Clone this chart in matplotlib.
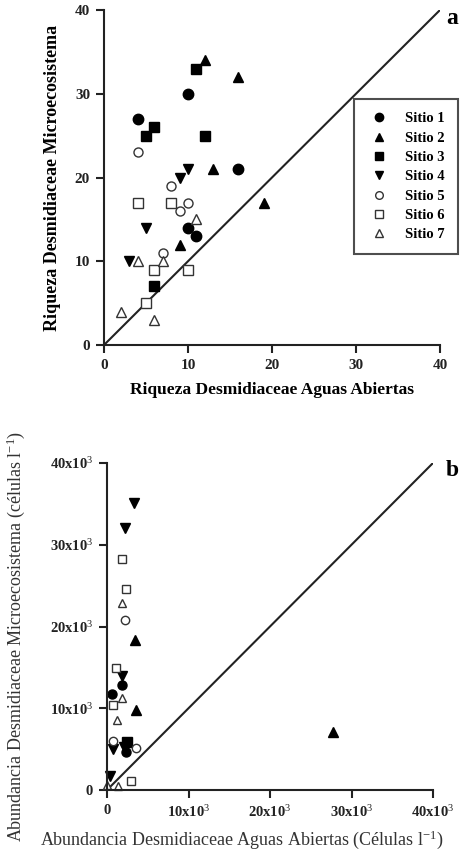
import matplotlib
matplotlib.use("Agg")
import matplotlib.pyplot as plt
from matplotlib.lines import Line2D

plt.rcParams['font.family'] = ['Liberation Serif', 'DejaVu Serif']
plt.rcParams['mathtext.fontset'] = 'custom'
plt.rcParams['mathtext.rm'] = 'Liberation Serif'
plt.rcParams['mathtext.it'] = 'Liberation Serif:italic'
plt.rcParams['mathtext.bf'] = 'Liberation Serif:bold'

# ---- Panel a: richness ----
sites = ["Sitio 1", "Sitio 2", "Sitio 3", "Sitio 4", "Sitio 5", "Sitio 6", "Sitio 7"]
a_s1_x = [10, 4, 16, 10, 11]; a_s1_y = [30, 27, 21, 14, 13]
a_s2_x = [12, 16, 13, 19, 9]; a_s2_y = [34, 32, 21, 17, 12]
a_s3_x = [11, 6, 5, 12, 6];   a_s3_y = [33, 26, 25, 25, 7]
a_s4_x = [10, 9, 5, 3];       a_s4_y = [21, 20, 14, 10]
a_s5_x = [4, 8, 10, 9, 7];    a_s5_y = [23, 19, 17, 16, 11]
a_s6_x = [4, 8, 6, 10, 5];    a_s6_y = [17, 17, 9, 9, 5]
a_s7_x = [11, 4, 7, 2, 6];    a_s7_y = [15, 10, 10, 4, 3]

# ---- Panel b: abundance (cells per litre) ----
b_s1_x = [1900, 660, 2300];  b_s1_y = [12900, 11700, 4600]
b_s2_x = [3400, 3600, 27700]; b_s2_y = [18300, 9800, 7100]
b_s3_x = [2400];             b_s3_y = [5900]
b_s4_x = [3300, 2200, 1900, 740, 2050, 330]; b_s4_y = [35100, 32000, 14000, 5000, 5200, 1700]
b_s5_x = [2200, 740, 3600];  b_s5_y = [20800, 6000, 5100]
b_s6_x = [1800, 2300, 1150, 740, 3000]; b_s6_y = [28300, 24600, 14900, 10400, 1150]
b_s7_x = [1800, 1900, 1200, 0, 1350];   b_s7_y = [22900, 11250, 8600, 600, 500]

a_ticks = [0, 10, 20, 30, 40]
b_ticks = [0, 10000, 20000, 30000, 40000]
b_ticklabels = ["0", r"10x10$^{3}$", r"20x10$^{3}$", r"30x10$^{3}$", r"40x10$^{3}$"]

styles = [
    dict(marker='o', mfc='black', mec='black'),
    dict(marker='^', mfc='black', mec='black'),
    dict(marker='s', mfc='black', mec='black'),
    dict(marker='v', mfc='black', mec='black'),
    dict(marker='o', mfc='white', mec='#333333'),
    dict(marker='s', mfc='white', mec='#333333'),
    dict(marker='^', mfc='white', mec='#333333'),
]

fig = plt.figure(figsize=(4.74, 8.51), dpi=100)
W, H = 474, 851
def rect(l, t, r, b):
    return [l / W, 1 - b / H, (r - l) / W, (b - t) / H]

axa = fig.add_axes(rect(104, 10, 440, 345))
axb = fig.add_axes(rect(107, 463, 433, 790))

def style_axes(ax):
    for s in ['top', 'right']:
        ax.spines[s].set_visible(False)
    for s in ['left', 'bottom']:
        ax.spines[s].set_linewidth(1.5)
        ax.spines[s].set_color('#222222')
    ax.tick_params(direction='out', length=6, width=1.5, color='#222222', pad=4)

# panel a
a_data = [(a_s1_x, a_s1_y), (a_s2_x, a_s2_y), (a_s3_x, a_s3_y), (a_s4_x, a_s4_y),
          (a_s5_x, a_s5_y), (a_s6_x, a_s6_y), (a_s7_x, a_s7_y)]
axa.plot([0, 40], [0, 40], color='#222222', lw=1.5)
for (x, y), st in zip(a_data, styles):
    filled = st['mfc'] == 'black'
    axa.plot(x, y, ls='none', ms=7.5 if filled else 6.5, mew=1.0, clip_on=False, **st)
axa.set_xlim(0, 40); axa.set_ylim(0, 40)
axa.set_xticks(a_ticks); axa.set_yticks(a_ticks)
style_axes(axa)
for lab in axa.get_xticklabels() + axa.get_yticklabels():
    lab.set_fontsize(11); lab.set_fontweight('bold'); lab.set_color('#222222')
axa.set_xlabel("Riqueza Desmidiaceae Aguas Abiertas", fontsize=12.5, fontweight='bold', labelpad=7)
axa.set_ylabel("Riqueza Desmidiaceae Microecosistema", fontsize=13, fontweight='bold', labelpad=10)

handles = [Line2D([], [], ls='none', ms=6 if st['mfc'] == 'black' else 5.5, mew=1.0, **st) for st in styles]
leg = axa.legend(handles, sites, loc='upper left', bbox_to_anchor=(354 / W, 1 - 99 / H),
                 bbox_transform=fig.transFigure, frameon=True, fancybox=False,
                 edgecolor='#222222', prop=dict(family='Liberation Serif', weight='bold', size=10.5),
                 handletextpad=1.0, labelspacing=0.42, borderpad=0.9, handlelength=1.6,
                 borderaxespad=0)
leg.get_frame().set_linewidth(1.5)
fig.text(452 / W, 1 - 18 / H, "a", fontsize=17, fontweight='bold', ha='center', va='center')

# panel b
b_data = [(b_s1_x, b_s1_y), (b_s2_x, b_s2_y), (b_s3_x, b_s3_y), (b_s4_x, b_s4_y),
          (b_s5_x, b_s5_y), (b_s6_x, b_s6_y), (b_s7_x, b_s7_y)]
axb.plot([0, 40000], [0, 40000], color='#222222', lw=1.5)
for (x, y), st in zip(b_data, styles):
    filled = st['mfc'] == 'black'
    axb.plot(x, y, ls='none', ms=6.5 if filled else 6, mew=1.0, clip_on=False, **st)
axb.set_xlim(0, 40000); axb.set_ylim(0, 40000)
axb.set_xticks(b_ticks); axb.set_xticklabels(b_ticklabels)
axb.set_yticks(b_ticks); axb.set_yticklabels(b_ticklabels)
style_axes(axb)
for lab in axb.get_xticklabels() + axb.get_yticklabels():
    lab.set_fontsize(10.5); lab.set_color('#222222'); lab.set_fontweight('bold')
axb.set_xlabel(r"Abundancia Desmidiaceae Aguas Abiertas (Células l$^{-1}$)", fontsize=13,
               color='#333333')
axb.xaxis.set_label_coords(0.414, -0.117)
axb.set_ylabel(r"Abundancia Desmidiaceae Microecosistema (células l$^{-1}$)", fontsize=13,
               color='#333333')
axb.yaxis.set_label_coords(-0.245, 0.471)
fig.text(452 / W, 1 - 470 / H, "b", fontsize=17, fontweight='bold', ha='center', va='center')

fig.savefig("out.png", dpi=100)
